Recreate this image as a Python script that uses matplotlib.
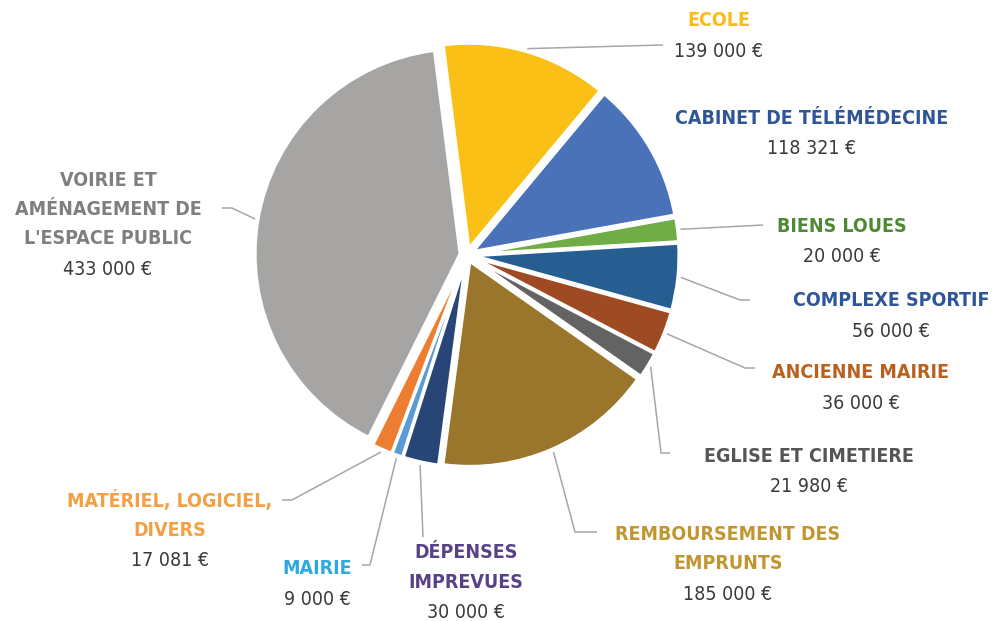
import numpy as np
import matplotlib
matplotlib.use("Agg")
import matplotlib.pyplot as plt

# donnees
categories = ["ECOLE", "CABINET DE TÉLÉMÉDECINE", "BIENS LOUES", "COMPLEXE SPORTIF",
              "ANCIENNE MAIRIE", "EGLISE ET CIMETIERE", "REMBOURSEMENT DES\nEMPRUNTS",
              "DÉPENSES\nIMPREVUES", "MAIRIE", "MATÉRIEL, LOGICIEL,\nDIVERS",
              "VOIRIE ET\nAMÉNAGEMENT DE\nL'ESPACE PUBLIC"]
montants = [139000, 118321, 20000, 56000, 36000, 21980, 185000, 30000, 9000, 17081, 433000]

couleurs = ["#FBC015", "#4A72B8", "#70AD47", "#275E92", "#9E4A22", "#636363",
            "#99762C", "#284577", "#5B9BD5", "#ED7D31", "#A6A5A3"]
couleurs_txt = ["#F8BC14", "#2E5597", "#4E8A35", "#2E5597", "#B9601E", "#555555",
                "#C1962E", "#59418A", "#2BA9E0", "#F3A044", "#7F7F7F"]

# position des etiquettes (pixels image : x centre, y de la 1ere ligne)
pos_etiq = [(719, 20), (812, 117), (842, 225), (891, 300), (861, 372), (809, 455),
            (728, 533), (466, 552), (317, 568), (170, 500), (108, 179)]
# lignes de rappel (points apres le bord du secteur), None = pas de ligne
rappels = [[(663, 45)], None, [(763, 225)], [(740, 300), (750, 300)],
           [(745, 368), (755, 368)], [(661, 453), (670, 453)],
           [(575, 532), (597, 532)], [(423, 537)], [(370, 565), (362, 565)],
           [(292, 500), (282, 500)], [(232, 208), (222, 208)]]

W, H = 998, 621
plt.rcParams['font.family'] = ['DejaVu Sans']
plt.rcParams['font.stretch'] = 'condensed'

fig = plt.figure(figsize=(W / 100, H / 100), dpi=100)
ax = fig.add_axes([0, 0, 1, 1])

cx, cy, R, EXP = 467, 255, 205, 7
start = 97.2

wedges, _ = ax.pie(montants, colors=couleurs, startangle=start, counterclock=False,
                   center=(cx, H - cy), radius=R, explode=[EXP] * len(montants),
                   wedgeprops=dict(edgecolor="white", linewidth=2.2))

ax.set_xlim(0, W)
ax.set_ylim(0, H)
ax.set_aspect("auto")
ax.axis("off")

LIGNE = 29.5
for i, w in enumerate(wedges):
    x0, y0 = pos_etiq[i]
    lignes = categories[i].split("\n")
    for k, l in enumerate(lignes):
        ax.text(x0, H - (y0 + k * LIGNE) - 6.5, l, ha="center", va="baseline",
                fontsize=14, fontweight="bold", fontstretch="condensed",
                color=couleurs_txt[i])
    val = f"{montants[i]:,}".replace(",", " ") + " €"
    ax.text(x0, H - (y0 + len(lignes) * LIGNE + 1) - 6.5, val, ha="center",
            va="baseline", fontsize=14, fontstretch="condensed", color="#3A3A3A")

    if rappels[i] is not None:
        tm = np.deg2rad((w.theta1 + w.theta2) / 2)
        rr = R + EXP + 3
        xs = [cx + rr * np.cos(tm)] + [p[0] for p in rappels[i]]
        ys = [H - cy + rr * np.sin(tm)] + [H - p[1] for p in rappels[i]]
        ax.plot(xs, ys, color="#A6A6A6", lw=1.1, solid_capstyle="butt")

fig.savefig("out.png", dpi=100)
